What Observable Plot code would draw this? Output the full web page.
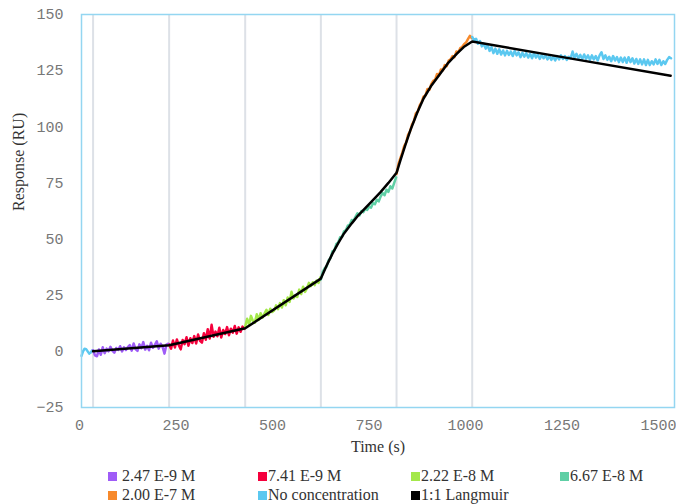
<!DOCTYPE html>
<html>
<head>
<meta charset="utf-8">
<script src="https://cdn.jsdelivr.net/npm/d3@7"></script>
<script src="https://cdn.jsdelivr.net/npm/@observablehq/plot@0.6"></script>
<style>
  html, body { margin: 0; padding: 0; background: #fff; }
  #wrap { position: relative; width: 676px; height: 504px; overflow: hidden; }
  .leg { position: absolute; font-family: "Liberation Serif", serif; font-size: 16px; color: #333; white-space: nowrap; line-height: 18px; }
  .leg i { display: inline-block; width: 9px; height: 9px; vertical-align: 0px; }
</style>
</head>
<body>
<div id="wrap"></div>
<script>
// ---- data ----
const xTicks = [0, 250, 500, 750, 1000, 1250, 1500];
const yTicks = [-25, 0, 25, 50, 75, 100, 125, 150];
const injectionTimes = [30, 227, 424, 620, 816, 1012];

const seriesNames = ["2.47 E-9 M", "7.41 E-9 M", "2.22 E-8 M", "6.67 E-8 M", "2.00 E-7 M", "No concentration", "1:1 Langmuir"];
const seriesColors = ["#9f5cf7", "#f5003c", "#a4e84a", "#5fcfa5", "#f7892b", "#5bc8f0", "#000000"];

// baseline before injection (No concentration), t = 0, 4, 8, ...
const baselineStart = 0, baselineStep = 4;
const baselineValues = [-2, 0, 1.2, 1, 0, -1, -0.5, 0.5];

// 2.47 E-9 M, t = 30, 35, ...
const c1Start = 30, c1Step = 5;
const c1Values = [0.5,-1.8,-2.2,0.8,-1.5,1.8,-0.8,1.2,0,2,0.3,-0.6,1.5,0.6,2.3,0,1.8,0.6,1.9,2.8,0.3,3.5,1,0.2,3.1,1.4,4.1,0.8,2.5,0.5,3.8,1.6,2.9,4.5,1.2,3.4,2,-1,3,3.4];

// 7.41 E-9 M
const c2Start = 227, c2Step = 5;
const c2Values = [3,1.2,4.8,1.7,5.3,2.7,0.9,5.1,3.2,6.3,2.5,5.8,3.7,6.8,3.5,7.5,4.7,3.9,8.1,5.2,9.8,5.7,11.8,6.5,8.8,6.7,10.5,6.2,9.5,7.7,10.8,7.2,10.1,8.3,11.3,7.9,10.7,8.7,11,10];

// 2.22 E-8 M
const c3Start = 424, c3Step = 5;
const c3Values = [11,14.5,12,15.8,13.5,12.8,16.5,14,17,15,16.8,18.5,16.2,19,17.5,18.2,20.5,18.8,21.5,19.5,22.8,20.5,24,22,26.5,23.5,25,24.2,27.5,25.5,28.8,26.5,28,30.5,29,30.8,29.5,31.5,30.5,33];

// 6.67 E-8 M
const c4Start = 620, c4Step = 5;
const c4Values = [32,35.5,37,37.8,40.5,41.5,44.5,45,47.8,48.5,50.8,51,53.5,54,56,56.5,58.5,58.2,60,61.5,60.5,62.5,62,63.5,63,64.5,64,66,65.5,67.5,66.8,69,70.5,69.5,72,71,73.5,72.5,75,77.5];

// 2.00 E-7 M
const c5Start = 816, c5Step = 5;
const c5Values = [79,83.5,86,88.5,91.5,93,96.5,98,101,102.5,106,106.8,109.5,111,113.5,114,116.8,116.5,119,120.5,121,123.5,123,125.5,125.2,127.5,127,129.5,130,131.5,131,133.5,133.2,135,135.5,136.8,137.5,139,140.5,139.5];

// dissociation (No concentration)
const dissStart = 1012, dissStep = 5;
const dissValues = [140,138.5,139.2,137,138.2,135.8,137,134.8,136.5,133.8,135.5,132.8,134.8,132.5,134.5,132.2,134,131.8,133.8,132,133.5,131.5,133.8,131.8,133.2,131,133,131.2,132.8,130.8,132.5,130.5,132.8,130.8,132.2,130.2,132,130.5,131.8,130,131.5,129.8,131.2,129.5,131.5,130,131.8,130.2,131.5,129.8,131.2,130.5,133.5,130.8,132.5,130.5,132,130.2,132.2,130.2,131.8,129.8,131.8,130,131.5,129.5,131.8,133.2,130.2,131.8,129.8,131.2,129.2,131.5,129.5,131,128.8,130.8,128.8,130.8,128.5,131,128.8,130.5,128.2,130.2,128,130,127.8,130,127.5,129.8,127.5,129.2,127.8,130,128,129.8,127.5,129.2,128,129.8,131,130.5];

// 1:1 Langmuir fit
const fitTimes  = [30, 227, 424, 620, 635, 650, 665, 680, 700, 717, 735, 750, 774, 795, 816, 826, 840, 852, 870, 886, 905, 930, 950, 973, 990, 1012, 1250, 1526];
const fitValues = [0, 2.7, 10.3, 32.4, 38.2, 43.5, 48.2, 52.5, 57, 60.6, 63.8, 66.5, 70.8, 75, 79.5, 85, 92.5, 98.5, 106.5, 112.6, 118, 123.8, 128.5, 132.7, 135.5, 138, 130.9, 122.7];

// ---- build ----
const toPts = (start, step, vals) => vals.map((v, i) => ({t: start + i * step, v}));
const traces = [
  {pts: toPts(baselineStart, baselineStep, baselineValues), color: seriesColors[5]},
  {pts: toPts(c1Start, c1Step, c1Values), color: seriesColors[0]},
  {pts: toPts(c2Start, c2Step, c2Values), color: seriesColors[1]},
  {pts: toPts(c3Start, c3Step, c3Values), color: seriesColors[2]},
  {pts: toPts(c4Start, c4Step, c4Values), color: seriesColors[3]},
  {pts: toPts(c5Start, c5Step, c5Values), color: seriesColors[4]},
  {pts: toPts(dissStart, dissStep, dissValues), color: seriesColors[5]}
];
const fitPts = fitTimes.map((t, i) => ({t, v: fitValues[i]}));

const plot = Plot.plot({
  width: 676,
  height: 462,
  marginTop: 14,
  marginLeft: 81,
  marginRight: 2,
  marginBottom: 55,
  style: {background: "transparent", overflow: "visible"},
  x: {domain: [0, 1536]},
  y: {domain: [-25, 150]},
  marks: [
    Plot.ruleX(injectionTimes, {stroke: "#dde1e7", strokeWidth: 2}),
    ...traces.map(tr => Plot.line(tr.pts, {x: "t", y: "v", stroke: tr.color, strokeWidth: 2.5})),
    Plot.line(fitPts, {x: "t", y: "v", stroke: "#000", strokeWidth: 2.5}),
    Plot.frame({stroke: "#94d6f1", strokeWidth: 1.5}),
    Plot.axisX(xTicks, {tickSize: 0, tickPadding: 12, label: null, tickFormat: d => String(d), dx: -2, fontSize: 15, fontFamily: "Liberation Mono", fill: "#777"}),
    Plot.axisY(yTicks, {tickSize: 0, tickPadding: 18, label: null, tickFormat: d => String(d).replace("-", "\u2212"), fontSize: 15, fontFamily: "Liberation Mono", fill: "#777"}),
    Plot.text(["Time (s)"], {text: d => d, frameAnchor: "bottom", dy: 44, fontSize: 16, fontFamily: "Liberation Serif", fill: "#333"}),
    Plot.text(["Response (RU)"], {text: d => d, frameAnchor: "left", dx: -63, rotate: -90, fontSize: 16, fontFamily: "Liberation Serif", fill: "#333"})
  ]
});
const wrap = document.getElementById("wrap");
wrap.appendChild(plot);

// legend
const legPos = [[108, 467, 5], [258, 467, 1], [411, 467, 1], [560, 467, 1], [108, 486, 5], [258, 486, 1], [411, 486, 1]];
const legOrder = [0, 1, 2, 3, 4, 5, 6];
legOrder.forEach((si, k) => {
  const [x, y, gap] = legPos[k];
  const d = document.createElement("div");
  d.className = "leg";
  d.style.left = x + "px";
  d.style.top = y + "px";
  d.innerHTML = `<i style="background:${seriesColors[si]};margin-right:${gap}px"></i>${seriesNames[si]}`;
  wrap.appendChild(d);
});
</script>
</body>
</html>
